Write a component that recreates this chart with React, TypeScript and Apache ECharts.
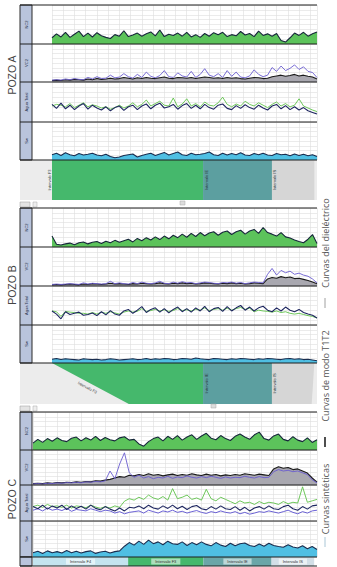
import React, { useEffect, useRef } from "react";
import * as echarts from "echarts";

const wellNames = ["POZO A", "POZO B", "POZO C"];
const trackNames = ["NC2", "VC2", "Agua Total", "Sw"];
const legendNames = ["Curvas del dieléctrico", "Curvas de modo T1T2", "Curvas sintéticas"];
const zoneNamesAB = ["Intervalo F3", "Intervalo IE", "Intervalo IS"];
const zoneNamesC = ["Intervalo F4", "Intervalo F3", "Intervalo IE", "Intervalo IS"];

// zone bounds in % of the depth axis
const zonesA = [[0, 57], [57, 83], [83, 99]];
// [startTop, startBottom, endTop, endBottom]
const zonesB = [[0, 29, 57, 57], [57, 57, 83, 83], [83, 83, 99, 98]];
const zonesC = [[0, 33.5], [33.5, 60], [60, 84], [84, 99]];

// POZO A
const A1 = [16,26,18,30,17,25,33,19,28,18,29,21,17,14,24,20,34,19,23,28,20,26,31,21,36,19,25,22,28,20,30,18,24,17,27,20,29,24,30,19,24,21,32,23,27,19,33,22,26,20,27,9,5,16,28,22,30,20,26,31];
const A2 = [4,5,4,6,5,7,6,5,8,6,9,7,8,10,8,9,12,10,8,11,9,12,10,9,11,13,10,9,12,11,10,12,9,11,13,12,10,11,9,12,10,11,9,8,10,12,11,9,10,14,16,18,15,17,20,16,18,15,13,8];
const A2p = [5,6,5,8,6,9,7,6,12,8,14,9,10,18,11,13,22,14,10,20,12,26,15,11,17,30,14,12,24,16,13,28,12,20,35,18,14,22,12,30,15,26,13,11,16,32,20,14,18,38,28,42,30,36,45,33,40,28,25,12];
const A3n = [44,34,47,33,42,31,40,46,32,42,35,30,38,28,36,40,29,38,42,31,40,45,33,42,47,35,38,44,32,41,46,34,42,33,44,36,32,42,45,34,31,41,34,43,36,32,42,35,30,40,44,33,41,31,38,30,36,28,24,20];
const A3g = [40,44,42,38,46,36,42,48,38,43,40,35,38,32,36,42,35,40,48,38,44,55,40,46,52,42,40,60,38,45,58,40,46,38,50,42,40,48,62,44,38,45,40,52,44,40,48,42,36,44,50,40,46,38,42,58,40,35,30,26];
const A4 = [14,18,12,19,14,11,17,13,15,18,13,11,15,9,6,8,12,14,16,8,12,15,18,12,16,20,13,17,21,14,12,18,14,15,17,21,14,12,18,13,17,14,19,13,12,17,14,18,13,12,17,14,15,11,16,12,15,11,14,9];

// POZO B
const B1 = [28,7,5,8,10,6,11,13,8,12,14,9,15,11,17,12,16,20,13,22,16,24,18,26,19,28,21,30,24,33,25,35,27,37,29,36,39,30,38,41,32,39,43,33,41,45,35,50,37,33,28,37,26,23,18,14,11,20,32,9];
const B2 = [3,4,3,4,5,4,3,5,4,6,5,4,5,7,5,6,5,4,6,5,7,6,5,6,8,6,5,7,6,8,6,7,5,6,8,7,6,5,7,6,8,6,7,5,6,8,7,6,18,22,20,24,21,23,19,20,17,14,10,6];
const B2p = [4,5,4,5,6,5,4,8,5,7,6,5,6,12,6,8,6,5,9,6,10,7,6,8,12,7,6,10,7,11,8,9,6,8,10,9,7,6,9,8,10,7,9,6,8,10,9,8,30,45,28,40,34,38,30,33,28,25,18,8];
const B3n = [36,28,16,34,27,30,33,25,27,31,24,34,26,37,28,25,36,40,30,38,47,32,40,44,33,42,31,40,46,34,42,33,44,36,48,34,42,45,35,47,36,44,50,38,46,36,44,48,38,34,44,36,46,38,34,40,32,28,25,18];
const B3g = [36,34,22,35,33,32,30,30,28,32,28,33,30,34,31,28,33,36,33,35,42,35,37,40,36,39,35,37,42,37,39,36,40,38,44,37,40,42,38,43,38,42,45,40,43,34,38,36,35,33,36,32,34,30,28,30,27,24,22,18];
const B4 = [10,12,9,11,10,9,8,11,10,9,10,8,9,11,10,8,9,10,11,9,10,12,9,11,10,12,11,9,10,12,11,10,13,11,10,9,12,11,10,9,11,10,12,11,10,9,11,10,12,11,10,9,11,12,10,11,9,10,8,6];

// POZO C
const C1 = [18,28,20,30,23,32,25,22,31,34,24,32,26,36,25,33,27,24,32,35,26,28,16,10,22,30,34,24,36,28,38,26,34,40,28,37,44,31,27,38,30,25,36,42,34,28,40,47,30,26,37,42,28,24,35,26,22,32,20,27];
const C2 = [4,5,4,6,5,7,6,8,7,9,8,10,9,12,11,14,16,20,24,22,28,26,30,27,32,28,30,26,29,31,27,30,28,32,29,27,31,28,30,26,29,27,30,28,32,30,28,31,29,27,46,52,48,50,44,46,40,34,20,8];
const C2p = [3,4,3,5,4,6,5,7,6,8,6,9,8,10,9,12,40,18,60,92,35,22,28,20,24,18,22,20,25,19,23,21,26,22,20,24,21,25,22,19,23,20,22,21,25,22,20,24,21,22,38,44,40,42,38,40,35,30,15,6];
const C3n = [40,34,44,33,42,36,44,32,42,35,41,33,44,35,31,40,33,28,36,28,38,36,42,34,44,36,33,42,35,44,34,41,32,40,43,34,31,40,33,42,34,32,40,30,38,28,36,40,33,42,34,32,40,44,34,30,40,33,42,44];
const C3p = [30,34,28,36,30,33,29,35,27,32,30,28,34,30,26,30,28,22,26,20,24,26,28,22,30,26,22,28,25,30,24,27,22,26,29,24,21,26,23,28,24,22,26,20,24,19,22,26,24,28,25,22,26,30,24,20,26,22,28,30];
const C3g = [40,44,38,46,40,42,38,44,36,42,40,37,44,39,35,40,36,42,38,55,62,58,66,60,72,64,60,68,58,90,62,66,72,60,64,58,88,62,56,66,60,54,48,56,50,52,46,54,48,52,50,46,54,48,52,50,95,52,56,60];
const C4 = [12,16,10,17,12,15,11,18,12,16,11,15,17,10,14,16,11,15,17,30,40,33,44,35,47,37,42,34,44,37,35,42,32,40,34,42,35,31,40,33,29,38,31,37,39,32,29,36,30,38,32,29,27,34,28,25,31,23,29,21];

const panels = [
  { left: 52, top: 5, seps: [44, 82, 122, 160], t1: A1, t2: A2, t2p: A2p, t3n: A3n, t3g: A3g, t3p: null as number[] | null, t4: A4 },
  { left: 52, top: 208, seps: [247, 286, 325, 363], t1: B1, t2: B2, t2p: B2p, t3n: B3n, t3g: B3g, t3p: null as number[] | null, t4: B4 },
  { left: 33, top: 412, seps: [450, 485, 521, 557], t1: C1, t2: C2, t2p: C2p, t3n: C3n, t3g: C3g, t3p: C3p as number[] | null, t4: C4 },
];

const RIGHT = 317;
const STRIP_L = 20;
const STRIP_R = 32;

const xy = (arr: number[]) => arr.map((v, i) => [i, v]);

function buildOption() {
  const grid: any[] = [];
  const xAxis: any[] = [];
  const yAxis: any[] = [];
  const series: any[] = [];
  const graphic: any[] = [];
  const gl = { color: "#dedede", width: 0.6 };

  panels.forEach((p, pi) => {
    for (let t = 0; t < 4; t++) {
      const top = t === 0 ? p.top : p.seps[t - 1];
      const h = p.seps[t] - top;
      const gi = grid.length;
      grid.push({ left: p.left, top, height: h, right: 337 - RIGHT });
      xAxis.push({ gridIndex: gi, type: "value", min: 0, max: 59, interval: 2.5, axisLine: { show: false }, axisTick: { show: false }, axisLabel: { show: false }, splitLine: { show: true, lineStyle: gl } });
      yAxis.push({ gridIndex: gi, type: "value", min: 0, max: 100, interval: 12.5, axisLine: { show: false }, axisTick: { show: false }, axisLabel: { show: false }, splitLine: { show: true, lineStyle: gl } });
      const base = { type: "line", xAxisIndex: gi, yAxisIndex: gi, showSymbol: false, symbol: "none", silent: true };
      if (t === 0) {
        series.push({ ...base, data: xy(p.t1), lineStyle: { color: "#16263a", width: 1.1 }, areaStyle: { color: "#5cc35b", opacity: 1 } });
      } else if (t === 1) {
        series.push({ ...base, data: xy(p.t2), lineStyle: { color: "#1a1a1a", width: 1.1 }, areaStyle: { color: "#a9a8b0", opacity: 1 }, z: 2 });
        series.push({ ...base, data: xy(p.t2p), lineStyle: { color: "#6a5ccf", width: 0.9 }, z: 3 });
      } else if (t === 2) {
        series.push({ ...base, data: xy(p.t3g), lineStyle: { color: "#5fc24a", width: 0.9 }, z: 2 });
        if (p.t3p) series.push({ ...base, data: xy(p.t3p), lineStyle: { color: "#5a50d0", width: 0.9 }, z: 3 });
        series.push({ ...base, data: xy(p.t3n), lineStyle: { color: "#1e2660", width: 1.1 }, z: 4 });
      } else {
        series.push({ ...base, data: xy(p.t4), lineStyle: { color: "#1a2d4f", width: 1.1 }, areaStyle: { color: "#4fbfe3", opacity: 1 } });
      }
      // strip label
      graphic.push({ type: "text", x: (STRIP_L + STRIP_R) / 2, y: top + h / 2, rotation: Math.PI / 2, z: 101, style: { text: trackNames[t], fontSize: 4, fill: "#2b3550", align: "center", verticalAlign: "middle" } });
    }
    // strip box
    const bottom = p.seps[3];
    graphic.push({ type: "rect", z: 99, shape: { x: STRIP_L, y: p.top, width: STRIP_R - STRIP_L, height: bottom - p.top }, style: { fill: "#b9c4dc", stroke: "#2a2a2a", lineWidth: 1 } });
    // top frame + separators
    [p.top, ...p.seps].forEach((y) => {
      graphic.push({ type: "line", z: 100, shape: { x1: STRIP_L, y1: y, x2: RIGHT, y2: y }, style: { stroke: "#1e1e1e", lineWidth: 1.2 } });
    });
    // well label
    const lblY = [75, 285, 499][pi];
    graphic.push({ type: "text", x: 12, y: lblY, rotation: Math.PI / 2, z: 101, style: { text: wellNames[pi], fontSize: 10.5, fill: "#444", align: "center", verticalAlign: "middle", fontFamily: "Liberation Sans" } });
  });

  // zone grids
  const zoneGrid = (left: number, top: number, height: number) => {
    const gi = grid.length;
    grid.push({ left, top, height, right: 337 - RIGHT });
    xAxis.push({ gridIndex: gi, type: "value", min: 0, max: 100, show: false });
    yAxis.push({ gridIndex: gi, type: "value", min: 0, max: 1, show: false });
    return gi;
  };
  const colorsAB = ["#45b86c", "#5c9fa0", "#d6d6d6"];
  const colorsC = ["#c4e4ef", "#45b86c", "#6aa6a8", "#d2dfe7"];

  // background of zone areas
  graphic.push({ type: "rect", z: -1, shape: { x: STRIP_L, y: 160, width: RIGHT - STRIP_L, height: 40 }, style: { fill: "#ececec" } });
  graphic.push({ type: "rect", z: -1, shape: { x: STRIP_L, y: 363, width: RIGHT - STRIP_L, height: 41 }, style: { fill: "#ececec" } });

  const gA = zoneGrid(52, 160, 40);
  series.push({
    type: "custom", xAxisIndex: gA, yAxisIndex: gA, silent: true,
    data: zonesA.map((z, i) => [z[0], z[1], i]),
    renderItem: (_: any, api: any) => {
      const k = api.value(2);
      const a = api.coord([api.value(0), 1]);
      const b = api.coord([api.value(1), 0]);
      return {
        type: "group", children: [
          { type: "rect", shape: { x: a[0], y: a[1], width: b[0] - a[0], height: b[1] - a[1] }, style: { fill: colorsAB[k] } },
          { type: "text", x: k === 0 ? a[0] - 3 : a[0] + 3, y: (a[1] + b[1]) / 2, rotation: Math.PI / 2, style: { text: zoneNamesAB[k], fontSize: 4, fill: "#2a3a3a", align: "center", verticalAlign: "middle" } },
        ],
      };
    },
  });

  const gB = zoneGrid(52, 363, 41);
  series.push({
    type: "custom", xAxisIndex: gB, yAxisIndex: gB, silent: true,
    data: zonesB.map((z, i) => [z[0], z[1], z[2], z[3], i]),
    renderItem: (_: any, api: any) => {
      const k = api.value(4);
      const tl = api.coord([api.value(0), 1]);
      const bl = api.coord([api.value(1), 0]);
      const tr = api.coord([api.value(2), 1]);
      const br = api.coord([api.value(3), 0]);
      const children: any[] = [
        { type: "polygon", shape: { points: [tl, tr, br, bl] }, style: { fill: colorsAB[k] } },
      ];
      if (k === 0) {
        const ang = Math.atan2(bl[1] - tl[1], bl[0] - tl[0]);
        children.push({ type: "text", x: (tl[0] + bl[0]) / 2 - 3, y: (tl[1] + bl[1]) / 2 + 4, rotation: -ang, style: { text: zoneNamesAB[k], fontSize: 4, fill: "#333", align: "center", verticalAlign: "middle" } });
      } else {
        children.push({ type: "text", x: tl[0] + 3, y: (tl[1] + bl[1]) / 2, rotation: Math.PI / 2, style: { text: zoneNamesAB[k], fontSize: 4, fill: "#2a3a3a", align: "center", verticalAlign: "middle" } });
      }
      return { type: "group", children };
    },
  });

  const gC = zoneGrid(33, 557, 9);
  series.push({
    type: "custom", xAxisIndex: gC, yAxisIndex: gC, silent: true,
    data: zonesC.map((z, i) => [z[0], z[1], i]),
    renderItem: (_: any, api: any) => {
      const k = api.value(2);
      const a = api.coord([api.value(0), 1]);
      const b = api.coord([api.value(1), 0]);
      return {
        type: "group", children: [
          { type: "rect", shape: { x: a[0], y: a[1], width: b[0] - a[0], height: b[1] - a[1] }, style: { fill: colorsC[k] } },
          { type: "text", x: (a[0] + b[0]) / 2, y: (a[1] + b[1]) / 2, style: { text: zoneNamesC[k], fontSize: 4, fill: "#333", align: "center", verticalAlign: "middle", backgroundColor: "rgba(255,255,255,0.55)", padding: [1, 4] } },
        ],
      };
    },
  });
  // C bottom strip cell
  graphic.push({ type: "rect", z: 99, shape: { x: STRIP_L, y: 557, width: STRIP_R - STRIP_L, height: 9 }, style: { fill: "#b9c4dc", stroke: "#2a2a2a", lineWidth: 1 } });
  graphic.push({ type: "line", z: 100, shape: { x1: STRIP_L, y1: 566, x2: RIGHT, y2: 566 }, style: { stroke: "#1e1e1e", lineWidth: 1 } });

  // small header icons
  [202, 406].forEach((y) => {
    graphic.push({ type: "rect", z: 99, shape: { x: 20, y, width: 10, height: 5 }, style: { fill: "#e4e4e4", stroke: "#999", lineWidth: 0.5 } });
    graphic.push({ type: "rect", z: 99, shape: { x: 33, y, width: 4, height: 5 }, style: { fill: "#eee", stroke: "#aaa", lineWidth: 0.5 } });
  });
  graphic.push({ type: "rect", z: 99, shape: { x: 180, y: 201, width: 5, height: 4 }, style: { fill: "#ddd", stroke: "#aaa", lineWidth: 0.5 } });
  graphic.push({ type: "rect", z: 99, shape: { x: 211, y: 404, width: 5, height: 4 }, style: { fill: "#ddd", stroke: "#aaa", lineWidth: 0.5 } });

  // legend on the right
  const legY = [243, 376, 499];
  const legLine = [[298, 308], [437, 447], [537, 547]];
  const legColor = ["#a0a0a0", "#222", "#a9c6d6"];
  const legW = [1, 1.6, 1];
  legendNames.forEach((n, i) => {
    graphic.push({ type: "text", x: 325, y: legY[i], rotation: Math.PI / 2, z: 101, style: { text: n, fontSize: 9, fill: "#555", align: "center", verticalAlign: "middle", fontFamily: "Open Sans" } });
    graphic.push({ type: "line", z: 101, shape: { x1: 325, y1: legLine[i][0], x2: 325, y2: legLine[i][1] }, style: { stroke: legColor[i], lineWidth: legW[i] } });
  });

  return {
    animation: false,
    backgroundColor: "#ffffff",
    textStyle: { fontFamily: "Liberation Sans" },
    grid, xAxis, yAxis, series, graphic,
  };
}

export default function App() {
  const ref = useRef<HTMLDivElement>(null);
  useEffect(() => {
    const chart = echarts.init(ref.current!, null, { renderer: "svg" });
    chart.setOption(buildOption() as any);
    return () => chart.dispose();
  }, []);
  return <div ref={ref} style={{ position: "fixed", left: 0, top: 0, width: 337, height: 567, background: "#fff" }} />;
}
